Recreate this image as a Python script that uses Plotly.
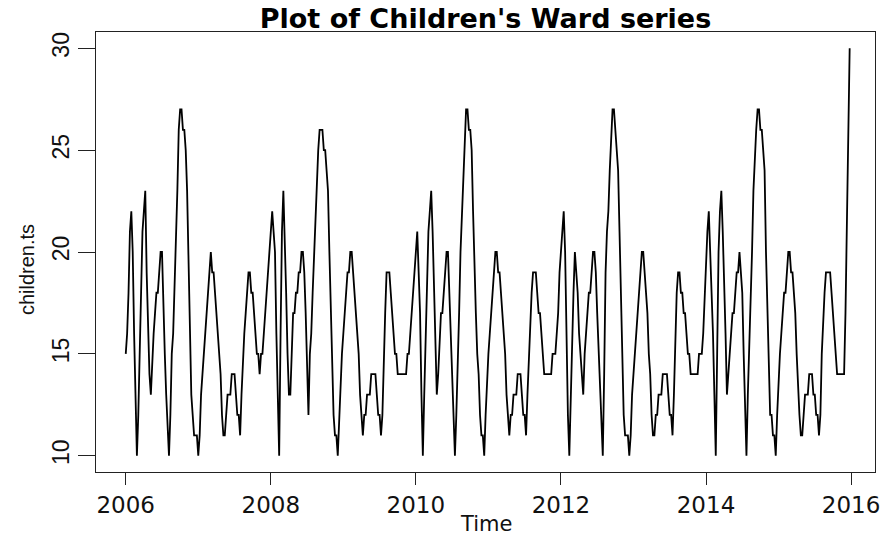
import plotly.graph_objects as go

# Weekly time series (frequency 52), starting 2006
start_year = 2006
frequency = 52
children_ts = [
    15, 16, 18, 21, 22, 20, 16, 12, 10, 12,
    15, 18, 21, 22, 23, 19, 16, 14, 13, 15,
    16, 17, 18, 18, 19, 20, 20, 17, 15, 13,
    11, 10, 12, 15, 16, 18, 20, 23, 26, 27,
    27, 26, 26, 25, 23, 19, 16, 13, 12, 11,
    11, 11, 10, 11, 13, 14, 15, 16, 17, 18,
    19, 20, 19, 19, 18, 17, 16, 15, 14, 12,
    11, 11, 12, 13, 13, 13, 14, 14, 14, 13,
    12, 12, 11, 13, 15, 16, 17, 18, 19, 19,
    18, 18, 17, 16, 15, 15, 14, 15, 15, 16,
    17, 18, 19, 20, 21, 22, 21, 20, 16, 12,
    10, 16, 21, 23, 21, 18, 15, 13, 13, 15,
    17, 17, 18, 18, 19, 19, 20, 20, 19, 17,
    14, 12, 15, 16, 18, 20, 21, 23, 25, 26,
    26, 26, 25, 25, 24, 23, 20, 17, 14, 12,
    11, 11, 10, 12, 13, 15, 16, 17, 18, 19,
    19, 20, 20, 19, 18, 17, 16, 15, 13, 12,
    11, 12, 12, 13, 13, 13, 14, 14, 14, 14,
    13, 12, 12, 11, 12, 15, 17, 19, 19, 19,
    18, 17, 16, 15, 15, 14, 14, 14, 14, 14,
    14, 14, 15, 15, 16, 17, 18, 19, 20, 21,
    19, 17, 13, 10, 13, 16, 19, 21, 22, 23,
    21, 18, 15, 13, 14, 16, 17, 17, 18, 19,
    20, 20, 18, 16, 14, 12, 10, 12, 14, 17,
    20, 22, 24, 26, 27, 27, 26, 26, 25, 22,
    19, 17, 15, 14, 12, 11, 11, 10, 12, 14,
    15, 16, 17, 18, 19, 20, 20, 19, 19, 18,
    17, 16, 15, 13, 12, 11, 12, 12, 13, 13,
    13, 14, 14, 14, 13, 12, 12, 11, 13, 15,
    16, 18, 19, 19, 19, 18, 17, 17, 16, 15,
    14, 14, 14, 14, 14, 14, 15, 15, 15, 16,
    17, 19, 20, 21, 22, 20, 15, 12, 10, 13,
    15, 18, 20, 19, 18, 16, 15, 14, 13, 15,
    16, 17, 18, 18, 19, 20, 20, 19, 17, 15,
    13, 11, 10, 14, 19, 21, 22, 24, 26, 27,
    27, 26, 25, 24, 21, 18, 15, 12, 11, 11,
    11, 10, 11, 13, 14, 15, 16, 17, 18, 19,
    20, 20, 19, 18, 17, 15, 14, 12, 11, 11,
    12, 12, 13, 13, 13, 14, 14, 14, 14, 13,
    12, 12, 11, 13, 16, 18, 19, 19, 18, 18,
    17, 17, 16, 15, 15, 14, 14, 14, 14, 14,
    14, 15, 15, 15, 16, 18, 19, 21, 22, 20,
    19, 16, 13, 10, 15, 20, 22, 23, 21, 19,
    16, 13, 14, 15, 16, 17, 17, 18, 19, 19,
    20, 19, 18, 15, 12, 10, 13, 15, 18, 20,
    23, 25, 26, 27, 27, 26, 26, 25, 24, 20,
    17, 14, 12, 12, 11, 11, 10, 12, 14, 15,
    16, 17, 18, 18, 19, 20, 20, 19, 19, 18,
    17, 15, 13, 12, 11, 11, 12, 13, 13, 13,
    14, 14, 14, 13, 13, 12, 12, 11, 12, 15,
    17, 18, 19, 19, 19, 19, 18, 17, 16, 15,
    14, 14, 14, 14, 14, 14, 17, 22, 27, 30,
]
x_ticks = [2006, 2008, 2010, 2012, 2014, 2016]
y_ticks = [10, 15, 20, 25, 30]

time_index = [start_year + i / frequency for i in range(len(children_ts))]

fig = go.Figure()
fig.add_trace(go.Scatter(
    x=time_index, y=children_ts, mode="lines",
    line=dict(color="black", width=1.8),
    hoverinfo="x+y", showlegend=False,
))

W, H = 892, 538
L, R, T, B = 96, 12, 32, 66

fig.update_layout(
    width=W, height=H,
    margin=dict(l=L, r=R, t=T, b=B, pad=0),
    paper_bgcolor="white", plot_bgcolor="white",
    title=dict(
        text="<b>Plot of Children's Ward series</b>",
        x=0.5, xref="paper", xanchor="center",
        y=1 - 19 / H, yref="container", yanchor="middle",
        font=dict(family="DejaVu Sans", size=27, color="black"),
    ),
    xaxis=dict(
        range=[2005.59, 2016.33],
        tickmode="array", tickvals=x_ticks, ticktext=[str(v) for v in x_ticks],
        ticks="outside", ticklen=12, tickwidth=1.2, tickcolor="#222",
        showgrid=False, zeroline=False,
        showline=True, linecolor="#222", linewidth=1.3, mirror=True,
        tickfont=dict(family="DejaVu Sans", size=23, color="#111"),
    ),
    yaxis=dict(
        range=[9.2, 30.8],
        tickmode="array", tickvals=y_ticks, ticktext=[str(v) for v in y_ticks],
        ticks="outside", ticklen=17, tickwidth=1.2, tickcolor="#222",
        tickangle=-90,
        showgrid=False, zeroline=False,
        showline=True, linecolor="#222", linewidth=1.3, mirror=True,
        tickfont=dict(family="Liberation Sans", size=23, color="#111"),
    ),
    annotations=[
        dict(text="Time", xref="paper", yref="paper",
             x=0.5, y=-(524 - 472) / (H - T - B), xanchor="center", yanchor="middle",
             showarrow=False, font=dict(family="DejaVu Sans", size=21, color="#111")),
        dict(text="children.ts", xref="paper", yref="paper",
             x=(26 - L) / (W - L - R), y=0.46, xanchor="center", yanchor="middle",
             textangle=-90, showarrow=False,
             font=dict(family="Liberation Sans", size=20, color="#111")),
    ],
)

fig.write_html("out.html")
